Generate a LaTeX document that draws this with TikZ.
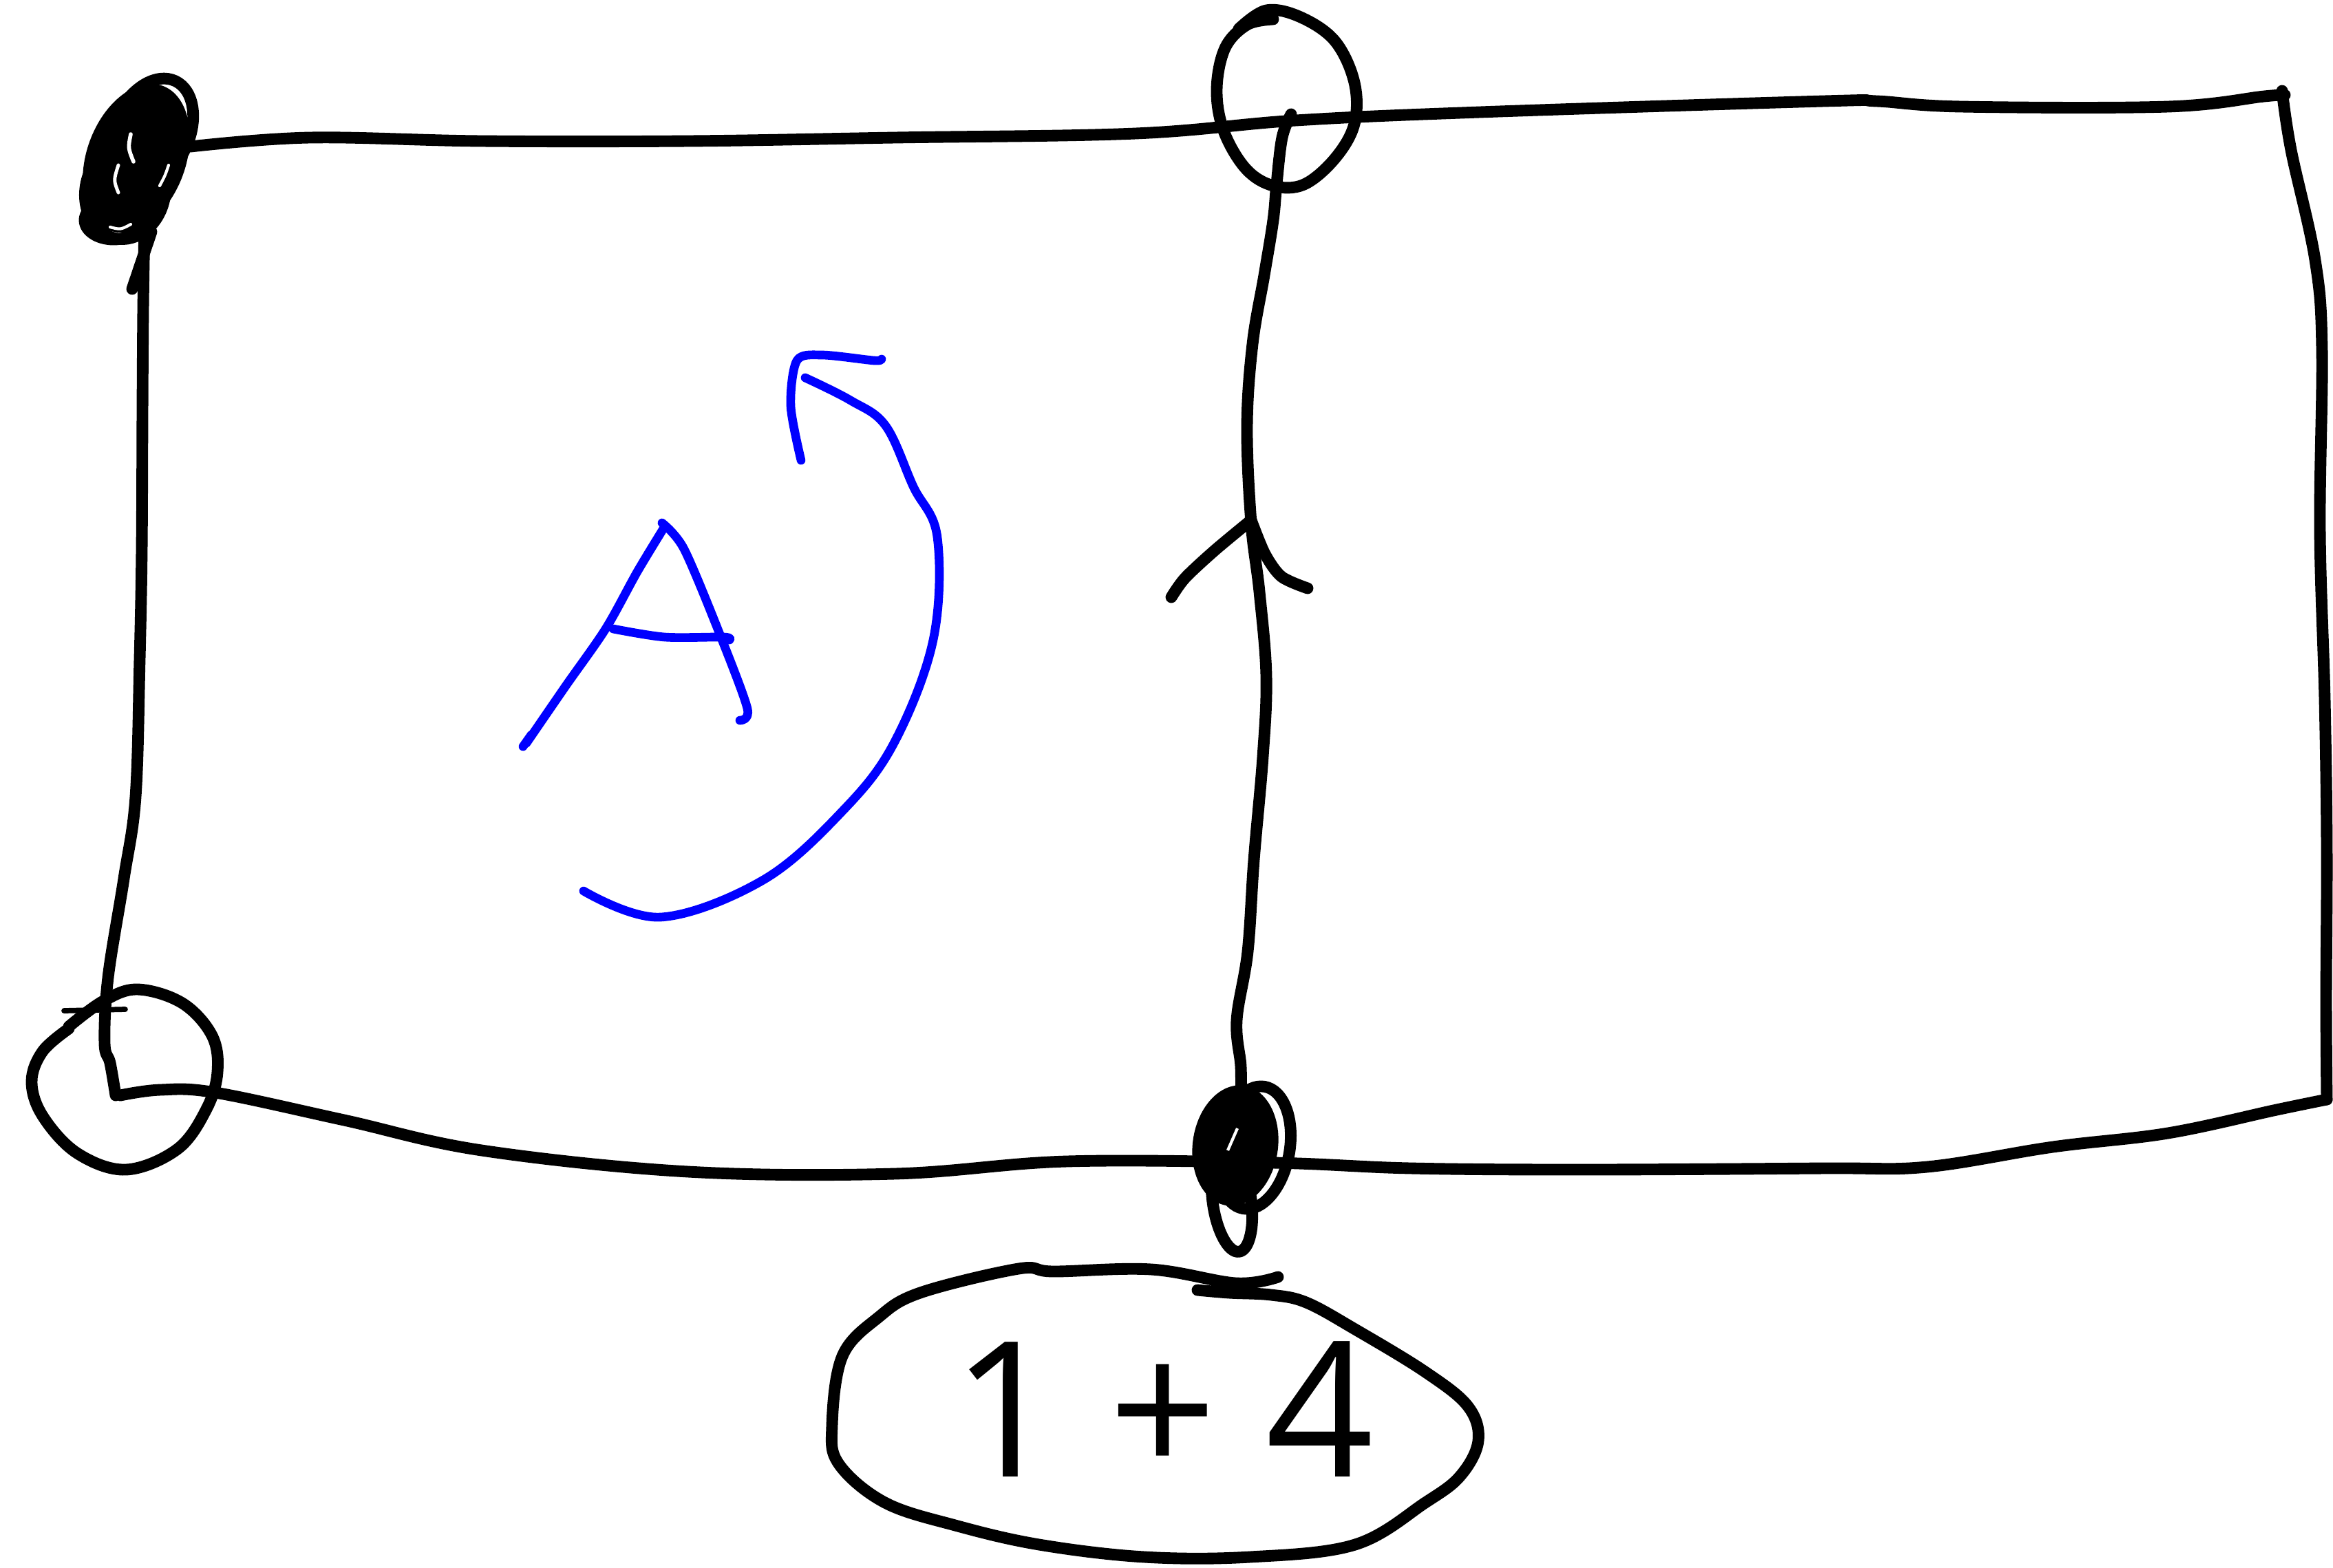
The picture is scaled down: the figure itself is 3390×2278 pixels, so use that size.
\documentclass[tikz,border=0pt]{standalone}
\usepackage{fontspec}
\newfontfamily\handfont{Open Sans}
\definecolor{penblue}{RGB}{0,0,255}
\tikzset{
  ink/.style={draw=black, line width=4.8pt, line cap=round, line join=round},
  thinink/.style={draw=black, line width=2.2pt, line cap=round, line join=round},
  blueink/.style={draw=penblue, line width=3.6pt, line cap=round, line join=round},
  handtext/.style={font=\handfont\fontsize{78}{94}\selectfont, inner sep=0pt}
}
\begin{document}
\begin{tikzpicture}[x=0.01cm, y=-0.01cm]
\useasboundingbox (0,0) rectangle (3390,2278);

% ---- corner coordinates
\coordinate (tl) at (277,213);
\coordinate (tr) at (3320,138);
\coordinate (br) at (3382,1598);
\coordinate (bl) at (170,1592);
\coordinate (tm) at (1876,166);
\coordinate (bm) at (1803,1600);

% ---- top edge
\draw[ink] plot[smooth, tension=0.6] coordinates {(277,213) (450,200) (700,205) (1000,205) (1300,200) (1650,194) (1883,175) (2150,163) (2650,147) (2727,147) (2850,155) (3150,155) (3290,140) (3320,138)};
% ---- right edge
\draw[ink] plot[smooth, tension=0.6] coordinates {(3316,132) (3329,218) (3364,378) (3374,508) (3371,770) (3378,1017) (3381,1235) (3380,1453) (3381,1598)};
% ---- bottom edge
\draw[ink] plot[smooth, tension=0.6] coordinates {(3381,1598) (3308,1613) (3150,1647) (2983,1667) (2800,1696) (2650,1698) (2300,1700) (2050,1698) (1850,1690) (1550,1688) (1300,1706) (1000,1703) (700,1672) (500,1628) (313,1588) (233,1584) (175,1592)};
% ---- left edge
\draw[ink] plot[smooth, tension=0.6] coordinates {(210,325) (208,450) (207,600) (206,800) (203,958) (197,1158) (180,1277) (157,1421) (152,1516) (160,1545) (168,1592)};
\draw[ink] (220,337) -- (192,420);

% ---- top-left scribble
\fill[rotate around={-20:(198,230)}] (198,230) ellipse [x radius=72, y radius=112];
\draw[ink, rotate around={-12:(182,278)}] (182,278) ellipse [x radius=58, y radius=70];
\draw[ink, rotate around={-25:(220,192)}] (220,192) ellipse [x radius=55, y radius=82];
\draw[ink] (165,320) ellipse [x radius=42, y radius=28];
\draw[white, line width=1.6pt, line cap=round] (190,195) .. controls (186,215) .. (194,235);
\draw[white, line width=1.4pt, line cap=round] (172,240) .. controls (165,262) .. (172,280);
\draw[white, line width=1.2pt, line cap=round] (232,270) .. controls (240,255) .. (245,240);
\draw[white, line width=1.2pt, line cap=round] (160,330) .. controls (175,334) .. (190,326);

% ---- top-middle circle
\draw[ink] plot[smooth, tension=0.6] coordinates {(1800,42) (1840,15) (1890,25) (1940,60) (1968,120) (1968,180) (1940,230) (1895,268) (1850,270) (1810,245) (1778,190) (1768,130) (1780,70) (1812,36) (1850,28)};

% ---- middle vertical line with arrowhead
\draw[ink] plot[smooth, tension=0.6] coordinates {(1876,166) (1863,200) (1855,267) (1850,320) (1837,400) (1820,500) (1812,620) (1818,760) (1830,860) (1840,983) (1835,1100) (1822,1250) (1813,1383) (1797,1483) (1803,1550) (1803,1600)};
\draw[ink] plot[smooth, tension=0.5] coordinates {(1702,868) (1722,840) (1765,800) (1818,756)};
\draw[ink] plot[smooth, tension=0.5] coordinates {(1818,756) (1838,805) (1862,838) (1900,855)};

% ---- bottom-left circle
\draw[ink] plot[smooth, tension=0.6] coordinates {(100,1492) (150,1455) (200,1438) (265,1458) (308,1505) (316,1558) (300,1612) (258,1670) (183,1700) (112,1676) (62,1622) (46,1572) (62,1528) (100,1495)};
\draw[thinink] (93,1469) -- (182,1467);

% ---- bottom-middle knot
\fill[rotate around={-8:(1795,1665)}] (1795,1665) ellipse [x radius=62, y radius=88];
\draw[ink, rotate around={-10:(1822,1668)}] (1822,1668) ellipse [x radius=52, y radius=90];
\draw[ink, rotate around={8:(1790,1745)}] (1790,1745) ellipse [x radius=28, y radius=75];
\draw[white, line width=1.2pt] (1798,1640) -- (1784,1672);

% ---- bottom ellipse with sum
\draw[ink] plot[smooth, tension=0.6] coordinates {(1857,1856) (1796,1865) (1673,1845) (1531,1848) (1480,1844) (1337,1879) (1276,1915) (1224,1971) (1209,2072) (1219,2128) (1286,2184) (1388,2217) (1510,2245) (1663,2263) (1816,2263) (1969,2245) (2071,2184) (2122,2145) (2148,2094) (2133,2044) (2071,1994) (1969,1932) (1898,1893) (1847,1882) (1786,1879) (1740,1875)};
\node[handtext] (sum) at (1690,2048) {1 + 4};

% ---- blue A
\draw[blueink] plot[smooth, tension=0.5] coordinates {(765,1080) (822,997) (880,914) (926,831) (966,765)};
\draw[blueink] (760,1085) -- (772,1068);
\draw[blueink] plot[smooth, tension=0.5] coordinates {(962,760) (994,798) (1046,922) (1086,1030) (1075,1047)};
\draw[blueink] plot[smooth, tension=0.5] coordinates {(891,914) (966,926) (1052,926) (1060,930)};

% ---- blue curved arrow
\draw[blueink] plot[smooth, tension=0.6] coordinates {(848,1295) (960,1333) (1109,1279) (1224,1179) (1299,1080) (1356,930) (1362,781) (1327,707) (1287,619) (1236,582) (1170,549)};
\draw[blueink] plot[smooth, tension=0.5] coordinates {(1164,669) (1149,590) (1158,524) (1195,516) (1270,524) (1281,522)};
\end{tikzpicture}
\end{document}
